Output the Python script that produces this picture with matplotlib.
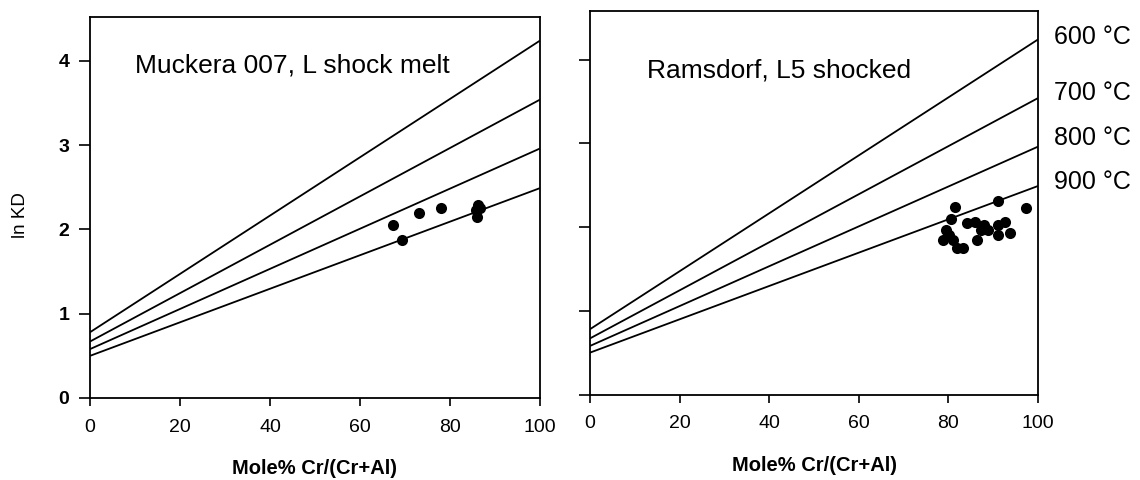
import matplotlib
matplotlib.use("Agg")
import matplotlib.pyplot as plt
import matplotlib.transforms as mtransforms

plt.rcParams['font.family'] = ['Liberation Sans', 'DejaVu Sans']

# Isotherms: ln KD at Cr# = 0 and Cr# = 100
temps = ["600 °C", "700 °C", "800 °C", "900 °C"]
cr_ends = [0, 100]
iso_600 = [0.78, 4.24]
iso_700 = [0.67, 3.54]
iso_800 = [0.58, 2.96]
iso_900 = [0.50, 2.49]
isotherms = [iso_600, iso_700, iso_800, iso_900]
temp_label_y = [4.27, 3.60, 3.06, 2.54]

# Muckera 007 spinel-olivine pairs
muck_cr = [67.4, 69.4, 73.2, 78.0, 86.3, 85.8, 85.9, 86.6]
muck_lnkd = [2.05, 1.87, 2.19, 2.26, 2.29, 2.23, 2.15, 2.25]

# Ramsdorf spinel-olivine pairs
rams_cr = [81.5, 91.0, 97.4, 80.6, 79.4, 78.7, 81.1, 81.9, 83.3, 84.1,
           85.9, 87.3, 86.3, 88.9, 91.1, 92.7, 91.1, 93.7, 88.0, 80.2]
rams_lnkd = [2.24, 2.31, 2.23, 2.09, 1.97, 1.85, 1.85, 1.75, 1.75, 2.05,
             2.06, 1.97, 1.85, 1.97, 2.03, 2.06, 1.91, 1.93, 2.03, 1.90]

panels = [
    ("Muckera 007, L shock melt", muck_cr, muck_lnkd),
    ("Ramsdorf, L5 shocked", rams_cr, rams_lnkd),
]

fig = plt.figure(figsize=(11.4, 4.8), dpi=100)
W, H = 1140, 480
# axes boxes in pixels: left, bottom(from top), right, top(from top)
boxes = [(90, 398, 540, 17), (590, 394.5, 1038, 11)]
ytops = [4.52, 4.58]
title_pos = [(0.10, 0.874), (0.127, 0.846)]

axes = []
for i, (title, xs, ys) in enumerate(panels):
    l, b, r, t = boxes[i]
    ax = fig.add_axes([l / W, 1 - b / H, (r - l) / W, (b - t) / H])
    axes.append(ax)
    for iso in isotherms:
        ax.plot(cr_ends, iso, color='black', lw=1.3, solid_capstyle='butt')
    ax.plot(xs, ys, 'o', color='black', ms=8, mec='black', mew=0)
    ax.set_xlim(0, 100)
    ax.set_ylim(0, ytops[i])
    ax.set_xticks([0, 20, 40, 60, 80, 100])
    ax.set_yticks([0, 1, 2, 3, 4])
    ax.tick_params(axis='x', direction='out', length=6, width=1.2,
                   labelsize=14, pad=9)
    ax.tick_params(axis='y', direction='out', length=8, width=1.2,
                   labelsize=14, pad=7)
    for s in ax.spines.values():
        s.set_linewidth(1.3)
    ax.set_xlabel("Mole% Cr/(Cr+Al)", fontsize=14.5, fontweight='bold',
                  labelpad=17)
    ax.text(title_pos[i][0], title_pos[i][1], title, transform=ax.transAxes,
            fontsize=19, ha='left', va='center')

ax1, ax2 = axes
for lab in ax1.get_yticklabels():
    lab.set_fontweight('bold')
ax2.tick_params(axis='y', labelleft=False)
ax1.set_ylabel("ln KD", fontsize=13.5)
ax1.yaxis.set_label_coords(-0.135, 0.48)

trans = mtransforms.blended_transform_factory(ax2.transAxes, ax2.transData)
for lab, yv in zip(temps, temp_label_y):
    ax2.text(1.036, yv, lab, transform=trans, fontsize=18,
             ha='left', va='center', clip_on=False)

fig.savefig("out.png", dpi=100)
